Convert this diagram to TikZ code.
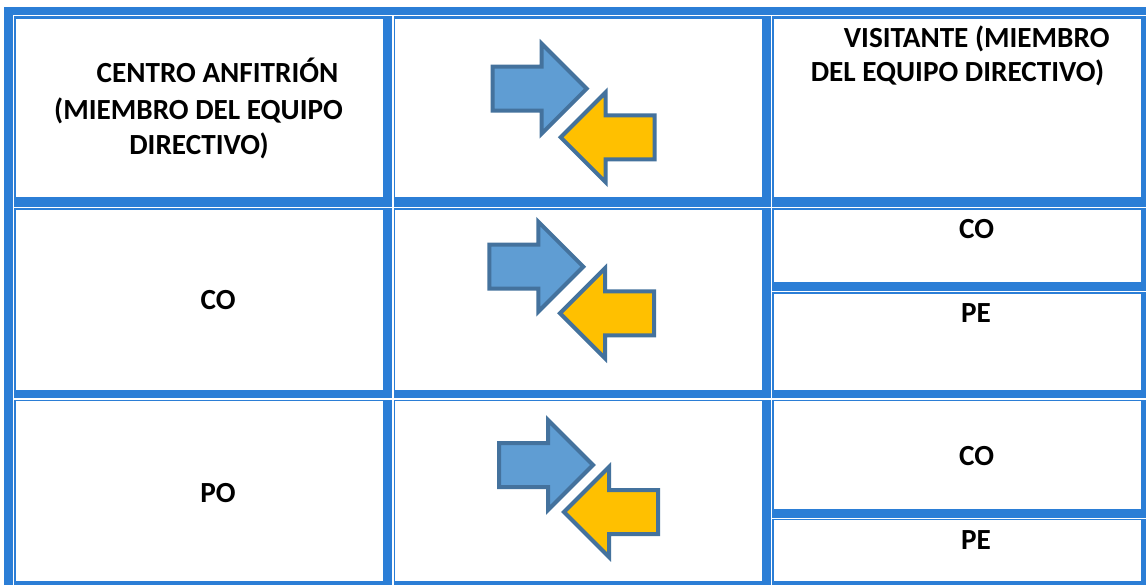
\documentclass[tikz,border=0pt]{standalone}
\usepackage{fontspec}
\setmainfont{Carlito}
\definecolor{tblue}{HTML}{2B7ED6}
\definecolor{afill}{HTML}{5F9DD3}
\definecolor{aline}{HTML}{44729D}
\definecolor{ayellow}{HTML}{FFC000}
\tikzset{
  lbl/.style={anchor=base, inner sep=0pt, font=\fontsize{29.2}{35}\selectfont\bfseries},
  cellbox/.style={fill=white},
  gapline/.style={fill=white},
  arrowshape/.pic={
    \path[pic actions] (0,-22) -- (49,-22) -- (49,-45) -- (94,0) -- (49,45) -- (49,22) -- (0,22) -- cycle;
  },
  bluearrow/.style={fill=afill, draw=aline, line width=4pt, miter limit=10},
  yellowarrow/.style={fill=ayellow, draw=aline, line width=4pt, miter limit=10}
}
\begin{document}
\begin{tikzpicture}[x=1pt, y=-1pt]
\useasboundingbox (0,0) rectangle (1146,585);
% blue table background
\fill[tblue] (4,7) rectangle (1146,585);
% thin white lines
\fill[gapline] (12.7,15) rectangle (1146,16.5);
\fill[gapline] (12.7,207) rectangle (1146,208.5);
\fill[gapline] (12.7,398.3) rectangle (1146,399.5);
\fill[gapline] (770.7,290.7) rectangle (1146,292);
\fill[gapline] (770.7,517.7) rectangle (1146,518.8);
\fill[gapline] (12.7,15) rectangle (14,585);
\fill[gapline] (392,15) rectangle (393.5,585);
\fill[gapline] (770.7,15) rectangle (772,585);
% cells
\fill[cellbox] (16,19) rectangle (383,197);
\fill[cellbox] (395,19) rectangle (762,197);
\fill[cellbox] (774,19) rectangle (1141,197);
\fill[cellbox] (16,210) rectangle (383,390);
\fill[cellbox] (395,210) rectangle (762,390);
\fill[cellbox] (774,210) rectangle (1141,281.7);
\fill[cellbox] (774,294) rectangle (1141,390);
\fill[cellbox] (16,401) rectangle (383,581);
\fill[cellbox] (395,401) rectangle (762,581);
\fill[cellbox] (774,401) rectangle (1141,509);
\fill[cellbox] (774,520) rectangle (1141,581);
% arrows
\pic[bluearrow] at (492.7,88.7) {arrowshape};
\pic[yellowarrow, rotate=180] at (654.7,137.3) {arrowshape};
\pic[bluearrow] at (489.3,266.7) {arrowshape};
\pic[yellowarrow, rotate=180] at (654,313.3) {arrowshape};
\pic[bluearrow] at (499,465) {arrowshape};
\pic[yellowarrow, rotate=180] at (658,512) {arrowshape};
% texts
\node[lbl] (hostA) at (217.5,82.7) {CENTRO ANFITRIÓN};
\node[lbl] (hostB) at (198.5,120) {(MIEMBRO DEL EQUIPO};
\node[lbl] (hostC) at (199,155) {DIRECTIVO)};
\node[lbl] (visA) at (976.7,47.7) {VISITANTE (MIEMBRO};
\node[lbl] (visB) at (957.5,81.7) {DEL EQUIPO DIRECTIVO)};
\node[lbl] (hostCO) at (218,310) {CO};
\node[lbl] (hostPO) at (218,502) {PO};
\node[lbl] (visCO1) at (976.7,238.3) {CO};
\node[lbl] (visPE1) at (976,322.3) {PE};
\node[lbl] (visCO2) at (976.7,465) {CO};
\node[lbl] (visPE2) at (976,549) {PE};
\end{tikzpicture}
\end{document}
